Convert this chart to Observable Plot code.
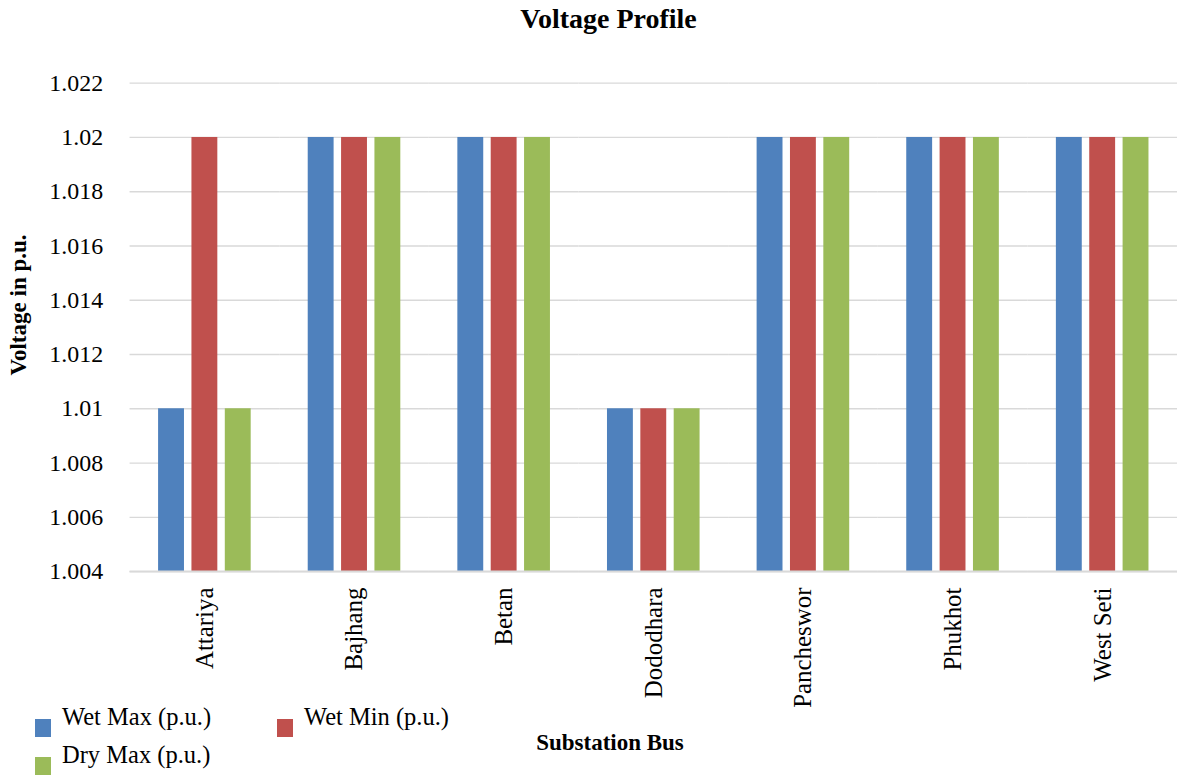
<!DOCTYPE html>
<html>
<head>
<meta charset="utf-8">
<script src="https://cdn.jsdelivr.net/npm/d3@7"></script>
<script src="https://cdn.jsdelivr.net/npm/@observablehq/plot@0.6"></script>
<style>
  body { margin: 0; background: #fff; font-family: "Liberation Serif", "DejaVu Serif", serif; }
  #chart { position: relative; width: 1177px; height: 776px; overflow: hidden; }
  #chart svg { position: absolute; left: 0; top: 0; }
  #chart svg, #chart svg text { font-family: "Liberation Serif", "DejaVu Serif", serif !important; }
  #chart svg g[aria-label="fx-axis tick label"] text { font-size: 25px; }
  .title { position: absolute; left: 0; width: 1217px; top: 3px; text-align: center; font-weight: bold; font-size: 28px; }
  .ylabel { position: absolute; left: 19px; top: 305px; transform: translate(-50%, -50%) rotate(-90deg); white-space: nowrap; font-weight: bold; font-size: 23px; }
  .xlabel { position: absolute; left: 610px; top: 730px; transform: translateX(-50%); white-space: nowrap; font-weight: bold; font-size: 23px; }
  .legend-item { position: absolute; font-size: 24.5px; white-space: nowrap; }
  .legend-item .sw { position: absolute; width: 16px; height: 18px; left: 0; }
  .legend-item span.lbl { position: absolute; left: 27px; white-space: nowrap; }
</style>
</head>
<body>
<div id="chart"></div>
<script>
// Substation buses along the horizontal axis
const buses = ["Attariya", "Bajhang", "Betan", "Dododhara", "Pancheswor", "Phukhot", "West Seti"];
// Series names and bus voltages (p.u.)
const seriesNames = ["Wet Max (p.u.)", "Wet Min (p.u.)", "Dry Max (p.u.)"];
const wetMax = [1.01, 1.02, 1.02, 1.01, 1.02, 1.02, 1.02];
const wetMin = [1.02, 1.02, 1.02, 1.01, 1.02, 1.02, 1.02];
const dryMax = [1.01, 1.02, 1.02, 1.01, 1.02, 1.02, 1.02];
const seriesColors = ["#4f81bd", "#c0504d", "#9bbb59"];
// Voltage axis ticks
const yTicks = [1.004, 1.006, 1.008, 1.01, 1.012, 1.014, 1.016, 1.018, 1.02, 1.022];

const seriesValues = [wetMax, wetMin, dryMax];
const rows = [];
buses.forEach((bus, i) => {
  seriesNames.forEach((name, s) => {
    rows.push({bus, series: name, value: seriesValues[s][i]});
  });
});

const fontFamily = "Liberation Serif, DejaVu Serif, serif";

// The plot frame runs a little past the right edge of the page, which clips it
const plot = Plot.plot({
  width: 1181,
  height: 776,
  marginTop: 83,
  marginBottom: 203,
  marginLeft: 130,
  marginRight: 0,
  style: {fontFamily, fontSize: "24px", color: "#000", background: "transparent"},
  fx: {
    domain: buses,
    padding: 0,
    round: false,
    tickSize: 0,
    tickPadding: 16,
    tickRotate: -90,
    label: null
  },
  x: {
    domain: seriesNames,
    paddingInner: 0.224,
    paddingOuter: 0.855,
    round: false,
    axis: null
  },
  y: {
    domain: [yTicks[0], yTicks[yTicks.length - 1]],
    ticks: yTicks,
    tickFormat: d => String(+d.toFixed(3)),
    tickSize: 0,
    tickPadding: 27,
    label: null
  },
  color: {domain: seriesNames, range: seriesColors},
  marks: [
    Plot.gridY(yTicks, {stroke: "#d9d9d9", strokeOpacity: 1, strokeWidth: 1.3}),
    Plot.barY(rows, {fx: "bus", x: "series", y: "value", fill: "series", clip: true}),
    Plot.ruleY([yTicks[0]], {stroke: "#d9d9d9", strokeWidth: 2})
  ]
});

const chart = document.getElementById("chart");
chart.appendChild(plot);

const title = document.createElement("div");
title.className = "title";
title.textContent = "Voltage Profile";
chart.appendChild(title);

const ylab = document.createElement("div");
ylab.className = "ylabel";
ylab.textContent = "Voltage in p.u.";
chart.appendChild(ylab);

const xlab = document.createElement("div");
xlab.className = "xlabel";
xlab.textContent = "Substation Bus";
chart.appendChild(xlab);

// Legend laid out in two rows at the lower left
const legendPos = [[35, 703], [277, 703], [35, 741]];
seriesNames.forEach((name, i) => {
  const item = document.createElement("div");
  item.className = "legend-item";
  item.style.left = legendPos[i][0] + "px";
  item.style.top = legendPos[i][1] + "px";
  const sw = document.createElement("div");
  sw.className = "sw";
  sw.style.background = seriesColors[i];
  sw.style.top = "16px";
  const lbl = document.createElement("span");
  lbl.className = "lbl";
  lbl.style.top = "0px";
  lbl.textContent = name;
  item.appendChild(sw);
  item.appendChild(lbl);
  chart.appendChild(item);
});
</script>
</body>
</html>
